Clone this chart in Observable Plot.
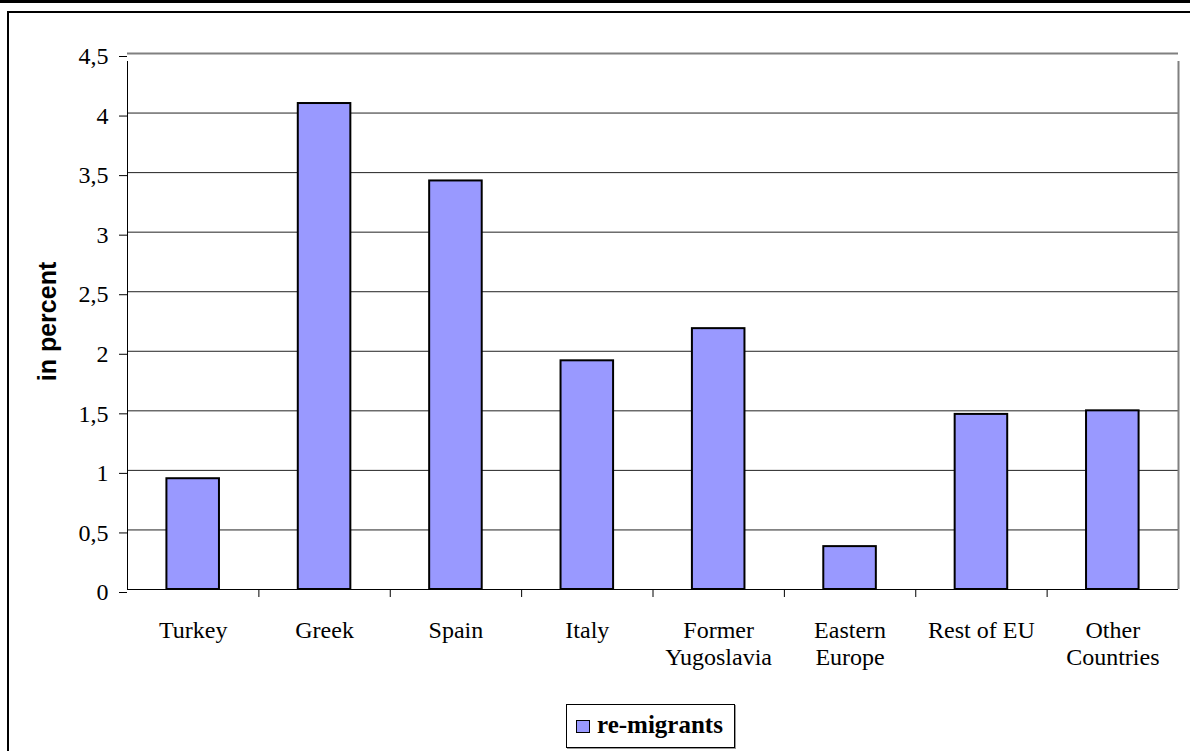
<!DOCTYPE html>
<html>
<head>
<meta charset="utf-8">
<script src="https://cdn.jsdelivr.net/npm/d3@7"></script>
<script src="https://cdn.jsdelivr.net/npm/@observablehq/plot@0.6"></script>
<style>
  html, body { margin: 0; padding: 0; background: #fff; }
  #wrap { position: relative; width: 1190px; height: 751px; overflow: hidden; background: #fff; }
  #topline { position: absolute; left: 0; top: 0; width: 1190px; height: 3px; background: #000; }
  #frame { position: absolute; left: 7px; top: 11px; width: 1300px; height: 900px; border: 2px solid #000; box-sizing: border-box; }
  #chart { position: absolute; left: 0; top: 0; }
  #legend { position: absolute; left: 566px; top: 704px; width: 169px; height: 44px; box-sizing: border-box;
            border: 1px solid #000; background: #fff; box-shadow: 1px 1px 0 #999;
            font-family: "Liberation Serif", "Times New Roman", serif; font-weight: bold; font-size: 25px; }
  #legend .sw { position: absolute; left: 9px; top: 15px; width: 14px; height: 13px; box-sizing: border-box;
                background: #9999FF; border: 1.5px solid #000; }
  #legend .tx { position: absolute; left: 30px; top: 5px; line-height: 30px; white-space: nowrap; }
</style>
</head>
<body>
<div id="wrap">
  <div id="topline"></div>
  <div id="frame"></div>
  <div id="chart"></div>
  <div id="legend"><div class="sw"></div><div class="tx">re-migrants</div></div>
</div>
<script>
const categories = ["Turkey", "Greek", "Spain", "Italy", "Former Yugoslavia", "Eastern Europe", "Rest of EU", "Other Countries"];
const tickLabels = ["Turkey", "Greek", "Spain", "Italy", "Former\nYugoslavia", "Eastern\nEurope", "Rest of EU", "Other\nCountries"];
const values = [0.93, 4.08, 3.43, 1.92, 2.19, 0.36, 1.47, 1.50];
const yTicks = [0, 0.5, 1, 1.5, 2, 2.5, 3, 3.5, 4, 4.5];
const seriesName = "re-migrants";

const data = categories.map((c, i) => ({category: c, value: values[i]}));

const W = 1190, H = 751, ML = 127, MR = 12, MT = 53, MB = 162;
const step = (W - ML - MR) / categories.length;
const last = categories[categories.length - 1];

const chart = Plot.plot({
  width: W,
  height: H,
  marginLeft: ML,
  marginRight: MR,
  marginTop: MT,
  marginBottom: MB,
  style: {fontFamily: "Liberation Serif, Times New Roman, serif", fontSize: "24px", background: "transparent", overflow: "visible", color: "#000"},
  x: {domain: categories, paddingInner: 0.6, paddingOuter: 0.3, round: false, label: null},
  y: {domain: [0, 4.5], label: null},
  marks: [
    Plot.ruleY(yTicks.filter(d => d > 0 && d < 4.5), {stroke: "#222", strokeWidth: 1}),
    Plot.ruleY([4.5], {stroke: "#808080", strokeWidth: 2}),
    Plot.barY(data, {x: "category", y: "value", fill: "#9999FF", stroke: "#000", strokeWidth: 2}),
    Plot.ruleY([0], {stroke: "#000", strokeWidth: 1}),
    Plot.ruleX([last], {y1: 0, y2: 4.5, dx: step / 2, insetBottom: -8, stroke: "#808080", strokeWidth: 2}),
    Plot.ruleX([categories[0]], {y1: 0, y2: 4.5, dx: -step / 2, insetBottom: -8, stroke: "#000", strokeWidth: 1}),
    Plot.ruleX(categories.slice(1), {y1: 0, y2: 0, dx: -step / 2, insetBottom: -8, stroke: "#000", strokeWidth: 1}),
    Plot.axisY({ticks: yTicks, tickSize: 8, tickPadding: 11, tickFormat: d => String(d).replace(".", ","), fontSize: 24, dy: 3, label: null}),
    Plot.axisX({tickSize: 0, tickPadding: 29, tickFormat: d => tickLabels[categories.indexOf(d)], fontSize: 24, lineHeight: 1.13, label: null}),
    Plot.text(["in percent"], {frameAnchor: "left", textAnchor: "middle", rotate: -90, dx: -80, fontFamily: "Liberation Sans, Arial, sans-serif", fontWeight: "bold", fontSize: 25, fill: "#000"})
  ]
});
document.getElementById("chart").appendChild(chart);
document.querySelector("#legend .tx").textContent = seriesName;
</script>
</body>
</html>
